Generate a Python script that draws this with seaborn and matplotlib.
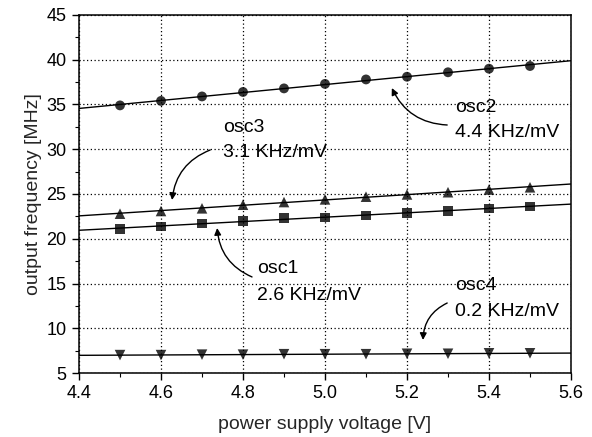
import matplotlib
matplotlib.use("Agg")
import matplotlib.pyplot as plt
from matplotlib.ticker import MultipleLocator
import seaborn as sns
import pandas as pd

# supply voltage sweep [V]
voltage = [4.5, 4.6, 4.7, 4.8, 4.9, 5.0, 5.1, 5.2, 5.3, 5.4, 5.5]

# measured output frequency of each oscillator [MHz]
osc1 = [21.1, 21.4, 21.7, 22.0, 22.3, 22.4, 22.6, 22.9, 23.1, 23.4, 23.6]
osc2 = [34.9, 35.4, 35.9, 36.4, 36.8, 37.3, 37.8, 38.1, 38.6, 39.0, 39.3]
osc3 = [22.8, 23.1, 23.4, 23.8, 24.1, 24.4, 24.7, 24.95, 25.2, 25.5, 25.75]
osc4 = [7.0, 7.0, 7.05, 7.05, 7.1, 7.1, 7.1, 7.15, 7.15, 7.2, 7.2]

names = ["osc1", "osc2", "osc3", "osc4"]
sensitivity = ["2.6 KHz/mV", "4.4 KHz/mV", "3.1 KHz/mV", "0.2 KHz/mV"]
markers = {"osc1": "s", "osc2": "o", "osc3": "^", "osc4": "v"}
marker_area = {"osc1": 46, "osc2": 50, "osc3": 58, "osc4": 58}

x_ticks = [4.4, 4.6, 4.8, 5.0, 5.2, 5.4, 5.6]
y_ticks = [5, 10, 15, 20, 25, 30, 35, 40, 45]

df = pd.DataFrame({"voltage": voltage, "osc1": osc1, "osc2": osc2,
                   "osc3": osc3, "osc4": osc4})
long = df.melt(id_vars="voltage", var_name="osc", value_name="freq")

sns.set_theme(style="ticks")
plt.rcParams["font.family"] = ["Liberation Sans", "DejaVu Sans"]

fig = plt.figure(figsize=(5.92, 4.37), dpi=100)
ax = fig.add_axes([79 / 592, 1 - 373 / 437, (571 - 79) / 592, (373 - 15) / 437])
ax.set_xlim(4.4, 5.6)
ax.set_ylim(5, 45)

# measured points with a straight-line fit spanning the whole voltage axis
for name in names:
    sub = long[long["osc"] == name]
    sns.regplot(data=sub, x="voltage", y="freq", ax=ax, ci=None,
                truncate=False, marker=markers[name], color="black",
                scatter_kws={"s": marker_area[name], "edgecolors": "none",
                             "zorder": 3},
                line_kws={"lw": 1.0, "zorder": 2})

ax.set_xlim(4.4, 5.6)
ax.set_ylim(5, 45)
ax.set_xticks(x_ticks)
ax.set_yticks(y_ticks)
ax.set_xticklabels([f"{v:.1f}" for v in x_ticks])
ax.set_yticklabels([str(v) for v in y_ticks])
ax.xaxis.set_minor_locator(MultipleLocator(0.1))
ax.yaxis.set_minor_locator(MultipleLocator(2.5))

ax.grid(True, which="major", color="black", linestyle=(0, (1, 2)), lw=0.9)
for s in ax.spines.values():
    s.set_visible(True)
    s.set_color("black")
    s.set_linewidth(1.1)
ax.tick_params(which="major", direction="out", length=5, width=1.0,
               labelsize=13, pad=4, colors="black")
ax.tick_params(which="minor", direction="out", length=3, width=0.8,
               colors="black")

ax.set_xlabel("power supply voltage [V]", fontsize=14, labelpad=10)
ax.set_ylabel("output frequency [MHz]", fontsize=14, labelpad=3)

# annotation text: (x, baseline of first line, baseline of second line)
label_pos = {
    "osc1": (4.834, 16.17, 13.16),
    "osc2": (5.317, 34.16, 31.37),
    "osc3": (4.751, 31.93, 29.13),
    "osc4": (5.317, 14.27, 11.37),
}
# arrow: (tail x, tail y, head x, head y, curvature)
arrow_pos = {
    "osc1": (4.822, 15.73, 4.737, 21.2, -0.3),
    "osc2": (5.298, 32.71, 5.163, 36.84, -0.3),
    "osc3": (4.720, 29.92, 4.627, 24.33, 0.3),
    "osc4": (5.298, 12.82, 5.239, 8.69, 0.3),
}
for name, sens in zip(names, sensitivity):
    tx, y1, y2 = label_pos[name]
    ax.text(tx, y1, name, fontsize=14, va="baseline", ha="left",
            color="black", zorder=4)
    ax.text(tx, y2, sens, fontsize=14, va="baseline", ha="left",
            color="black", zorder=4)
    x0, y0, x1, y1a, rad = arrow_pos[name]
    ax.annotate("", xy=(x1, y1a), xytext=(x0, y0),
                arrowprops=dict(arrowstyle="-|>", color="black", lw=1.0,
                                mutation_scale=10, shrinkA=0, shrinkB=0,
                                connectionstyle=f"arc3,rad={rad}"),
                zorder=4)

fig.savefig("out.png", dpi=100)
